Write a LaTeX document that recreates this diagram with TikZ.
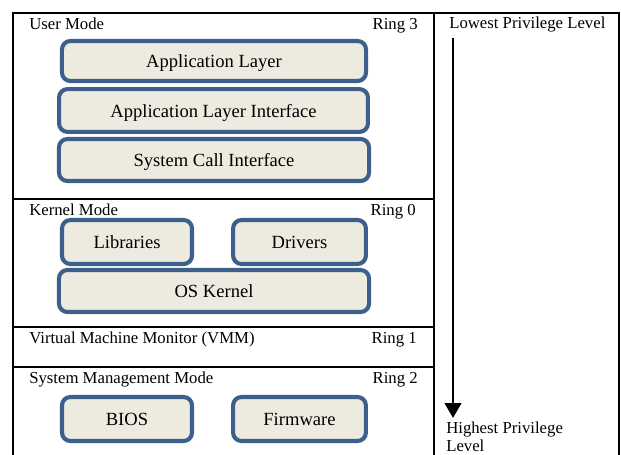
\documentclass[tikz,border=0pt]{standalone}
\usepackage{fontspec}
\setmainfont{Liberation Serif}
\usepackage{tikz}
\usetikzlibrary{positioning, arrows.meta}
\definecolor{layerEdge}{HTML}{3C5F8C}
\definecolor{layerFill}{HTML}{EDEAE0}
\tikzset{
  layer/.style={draw=layerEdge, line width=2.9pt, fill=layerFill,
    rounded corners=6pt, inner sep=0pt, text depth=0pt,
    font=\fontsize{13.2}{14}\selectfont},
  frame/.style={draw=black, line width=1.1pt},
  modelbl/.style={inner sep=0pt, font=\fontsize{11.9}{13}\selectfont},
}

\begin{document}
\begin{tikzpicture}[x=0.025cm, y=-0.025cm]
    \useasboundingbox (0,0) rectangle (621,455);
    % ---- mode frames ----
    \draw[frame] (13,13) rectangle (434,199);
    \draw[frame] (13,199) rectangle (434,327);
    \draw[frame] (13,327) rectangle (434,367);
    \draw[frame] (13,455) -- (13,367) -- (434,367) -- (434,455);
    \draw[frame] (434,455) -- (434,13) -- (619,13) -- (619,455);
    % ---- user mode (ring 3) ----
    \node[modelbl, anchor=base west] (usermode) at (29,29) {User Mode};
    \node[modelbl, anchor=base east] (ring3) at (418,29) {Ring 3};
    \node[layer, minimum width=7.6cm, minimum height=1.0cm] (applayer)
      at (214,61) {Application Layer};
    \node[layer, minimum width=7.72cm, minimum height=1.07cm] (appiface)
      at (213.5,110.5) {Application Layer Interface};
    \node[layer, minimum width=7.75cm, minimum height=1.05cm] (syscall)
      at (214,160) {System Call Interface};
    % ---- kernel mode (ring 0) ----
    \node[modelbl, anchor=base west] (kernelmode) at (29,215) {Kernel Mode};
    \node[modelbl, anchor=base east] (ring0) at (416,215) {Ring 0};
    \node[layer, minimum width=3.25cm, minimum height=1.1cm] (libraries)
      at (127,242) {Libraries};
    \node[layer, minimum width=3.32cm, minimum height=1.1cm] (drivers)
      at (299.5,242) {Drivers};
    \node[layer, minimum width=7.75cm, minimum height=1.05cm] (oskernel)
      at (214,291) {OS Kernel};
    % ---- vmm (ring 1) ----
    \node[modelbl, anchor=base west] (vmm) at (29,343) {Virtual Machine Monitor (VMM)};
    \node[modelbl, anchor=base east] (ring1) at (417,343) {Ring 1};
    % ---- smm (ring 2) ----
    \node[modelbl, anchor=base west] (smm) at (29,383) {System Management Mode};
    \node[modelbl, anchor=base east] (ring2) at (418,383) {Ring 2};
    \node[layer, minimum width=3.25cm, minimum height=1.1cm] (bios)
      at (127,419) {BIOS};
    \node[layer, minimum width=3.32cm, minimum height=1.1cm] (firmware)
      at (299.5,419) {Firmware};
    % ---- privilege scale ----
    \node[modelbl, anchor=base west] (lowest) at (449,28) {Lowest Privilege Level};
    \node[modelbl, anchor=base west, align=left, font=\fontsize{11.9}{12.3}\selectfont]
      (highest) at (446,451) {Highest Privilege\\Level};
    \coordinate (scaletop) at (453,38);
    \coordinate (scaletip) at (453,418);
    \draw[line width=2.1pt, -{Triangle[length=10.5pt, width=11.5pt]}]
      (scaletop) -- (scaletip);
  \end{tikzpicture}
\end{document}
